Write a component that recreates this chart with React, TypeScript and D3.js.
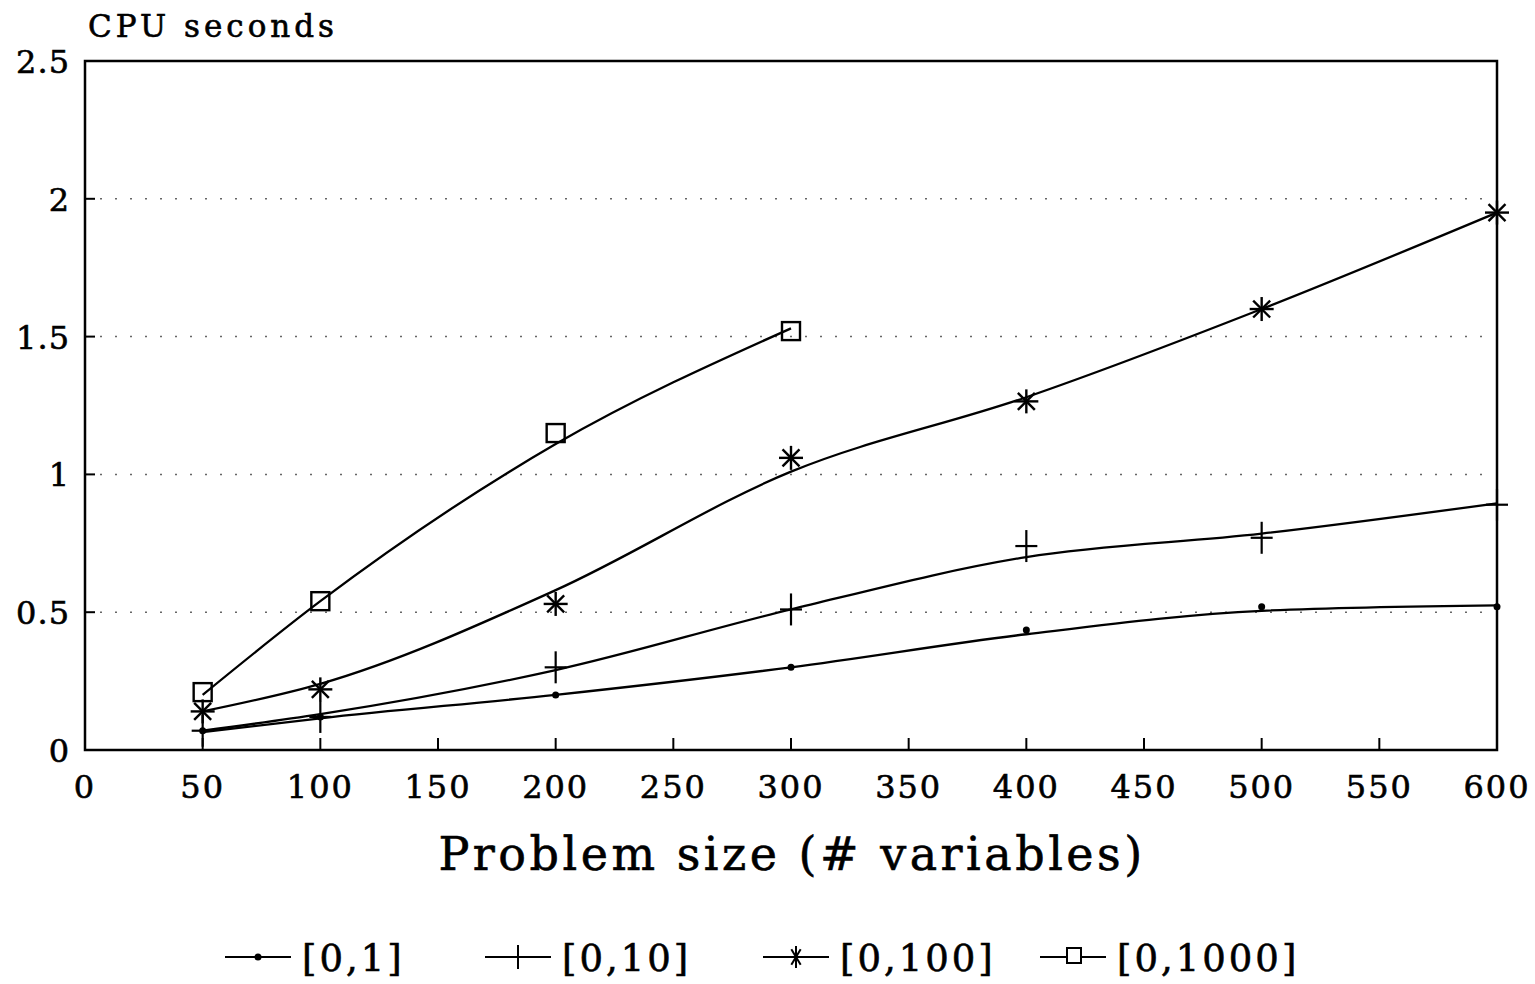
import React, {useEffect, useRef} from 'react'
import * as d3 from 'd3'

// x positions (problem size)
const sizes = [50, 100, 200, 300, 400, 500, 600]
const sizesShort = [50, 100, 200, 300]

// measured points (markers)
const s1 = [0.07, 0.12, 0.2, 0.3, 0.435, 0.52, 0.52]
const s10 = [0.07, 0.12, 0.3, 0.51, 0.74, 0.77, 0.89]
const s100 = [0.14, 0.22, 0.53, 1.06, 1.265, 1.6, 1.95]
const s1000 = [0.21, 0.54, 1.15, 1.52]

// smoothed fit curves
const fit1 = [0.065, 0.115, 0.2, 0.3, 0.42, 0.505, 0.525]
const fit10 = [0.07, 0.13, 0.29, 0.51, 0.7, 0.785, 0.895]
const fit100 = [0.14, 0.24, 0.58, 1.01, 1.28, 1.6, 1.95]
const fit1000 = [0.2, 0.54, 1.11, 1.53]

const labels = ['[0,1]', '[0,10]', '[0,100]', '[0,1000]']
const xTicks = [0, 50, 100, 150, 200, 250, 300, 350, 400, 450, 500, 550, 600]
const yTicks = [0, 0.5, 1, 1.5, 2, 2.5]

const FONT = '"DejaVu Serif", serif'

const App = () => {
  const ref = useRef<SVGSVGElement>(null)

  useEffect(() => {
    const svg = d3.select(ref.current)
    svg.selectAll('*').remove()

    const x = d3.scaleLinear().domain([0, 600]).range([85, 1497])
    const y = d3.scaleLinear().domain([0, 2.5]).range([750, 61])

    // dotted gridlines
    svg.append('g')
      .selectAll('line')
      .data([0.5, 1, 1.5, 2])
      .enter()
      .append('line')
      .attr('x1', x(0) + 15)
      .attr('x2', x(600) - 5)
      .attr('y1', d => y(d))
      .attr('y2', d => y(d))
      .attr('stroke', '#666')
      .attr('stroke-width', 1.5)
      .attr('stroke-dasharray', '2,13')

    // frame
    svg.append('rect')
      .attr('x', x(0))
      .attr('y', y(2.5))
      .attr('width', x(600) - x(0))
      .attr('height', y(0) - y(2.5))
      .attr('fill', 'none')
      .attr('stroke', 'black')
      .attr('stroke-width', 2.5)

    // x ticks (inward)
    svg.append('g')
      .selectAll('line')
      .data(xTicks.slice(1, -1))
      .enter()
      .append('line')
      .attr('x1', d => x(d))
      .attr('x2', d => x(d))
      .attr('y1', y(0))
      .attr('y2', y(0) - 12)
      .attr('stroke', 'black')
      .attr('stroke-width', 2)

    // y ticks (inward)
    svg.append('g')
      .selectAll('line')
      .data(yTicks.slice(1, -1))
      .enter()
      .append('line')
      .attr('x1', x(0))
      .attr('x2', x(0) + 10)
      .attr('y1', d => y(d))
      .attr('y2', d => y(d))
      .attr('stroke', 'black')
      .attr('stroke-width', 2)

    const textStyle = (sel: any, size: number, spacing: number) => sel
      .attr('font-family', FONT)
      .attr('font-size', size)
      .attr('letter-spacing', spacing)
      .attr('stroke', 'black')
      .attr('stroke-width', 0.6)

    // tick labels
    svg.append('g')
      .selectAll('text')
      .data(xTicks)
      .enter()
      .append('text')
      .attr('x', d => x(d))
      .attr('y', 798)
      .attr('text-anchor', 'middle')
      .call(textStyle, 32, 2)
      .text(d => String(d))

    svg.append('g')
      .selectAll('text')
      .data(yTicks)
      .enter()
      .append('text')
      .attr('x', 70)
      .attr('y', d => y(d) + 12)
      .attr('text-anchor', 'end')
      .call(textStyle, 32, 1)
      .text(d => String(d))

    svg.append('text')
      .attr('x', 88)
      .attr('y', 37)
      .call(textStyle, 31, 4)
      .text('CPU seconds')

    svg.append('text')
      .attr('x', 792)
      .attr('y', 870)
      .attr('text-anchor', 'middle')
      .call(textStyle, 46, 3.5)
      .text('Problem size (# variables)')

    // curves
    const line = d3.line<[number, number]>()
      .x(d => x(d[0]))
      .y(d => y(d[1]))
      .curve(d3.curveMonotoneX)

    const fits: [number[], number[]][] = [
      [sizes, fit1], [sizes, fit10], [sizes, fit100], [sizesShort, fit1000]
    ]
    fits.forEach(([xs, ys]) => {
      svg.append('path')
        .datum(xs.map((v, i) => [v, ys[i]] as [number, number]))
        .attr('fill', 'none')
        .attr('stroke', 'black')
        .attr('stroke-width', 2.3)
        .attr('d', line)
    })

    // marker drawers
    const drawMarker = (g: any, kind: number, cx: number, cy: number) => {
      if (kind === 0) {
        g.append('circle').attr('cx', cx).attr('cy', cy).attr('r', 3.5).attr('fill', 'black')
      } else if (kind === 1) {
        g.append('line').attr('x1', cx - 11).attr('x2', cx + 11).attr('y1', cy).attr('y2', cy)
          .attr('stroke', 'black').attr('stroke-width', 2.2)
        g.append('line').attr('x1', cx).attr('x2', cx).attr('y1', cy - 16).attr('y2', cy + 16)
          .attr('stroke', 'black').attr('stroke-width', 2.2)
      } else if (kind === 2) {
        const r = 12
        for (let a = 0; a < 180; a += 45) {
          const t = (a + 90) * Math.PI / 180
          g.append('line')
            .attr('x1', cx - r * Math.cos(t)).attr('x2', cx + r * Math.cos(t))
            .attr('y1', cy - r * Math.sin(t)).attr('y2', cy + r * Math.sin(t))
            .attr('stroke', 'black').attr('stroke-width', 2.4)
        }
      } else {
        g.append('rect').attr('x', cx - 9).attr('y', cy - 9).attr('width', 18).attr('height', 18)
          .attr('fill', 'none').attr('stroke', 'black').attr('stroke-width', 2.4)
      }
    }

    const points: [number[], number[]][] = [
      [sizes, s1], [sizes, s10], [sizes, s100], [sizesShort, s1000]
    ]
    points.forEach(([xs, ys], k) => {
      const g = svg.append('g')
      xs.forEach((v, i) => drawMarker(g, k, x(v), y(ys[i])))
    })

    // legend
    const legendX = [225, 485, 763, 1040]
    const lg = svg.append('g')
    labels.forEach((lab, k) => {
      const lx = legendX[k]
      const ly = 957
      lg.append('line').attr('x1', lx).attr('x2', lx + 66).attr('y1', ly).attr('y2', ly)
        .attr('stroke', 'black').attr('stroke-width', 2)
      const mg = lg.append('g')
      if (k === 0) {
        drawMarker(mg, 0, lx + 33, ly)
      } else if (k === 1) {
        mg.append('line').attr('x1', lx + 33).attr('x2', lx + 33).attr('y1', ly - 12).attr('y2', ly + 12)
          .attr('stroke', 'black').attr('stroke-width', 2)
      } else if (k === 2) {
        const r = 11
        for (let a = 0; a < 180; a += 45) {
          const t = (a + 90) * Math.PI / 180
          mg.append('line')
            .attr('x1', lx + 33 - r * 0.6 * Math.cos(t)).attr('x2', lx + 33 + r * 0.6 * Math.cos(t))
            .attr('y1', ly - r * Math.sin(t)).attr('y2', ly + r * Math.sin(t))
            .attr('stroke', 'black').attr('stroke-width', 2)
        }
      } else {
        mg.append('rect').attr('x', lx + 27).attr('y', ly - 9).attr('width', 14).attr('height', 15)
          .attr('fill', 'white').attr('stroke', 'black').attr('stroke-width', 2)
      }
      lg.append('text')
        .attr('x', lx + 77)
        .attr('y', ly + 14)
        .call(textStyle, 37, 3)
        .text(lab)
    })

    return () => { svg.selectAll('*').remove() }
  }, [])

  return (
    <svg ref={ref} width={1535} height={984} style={{display: 'block', position: 'absolute', left: 0, top: 0, background: 'white'}}>
    </svg>
  )
}

export default App
